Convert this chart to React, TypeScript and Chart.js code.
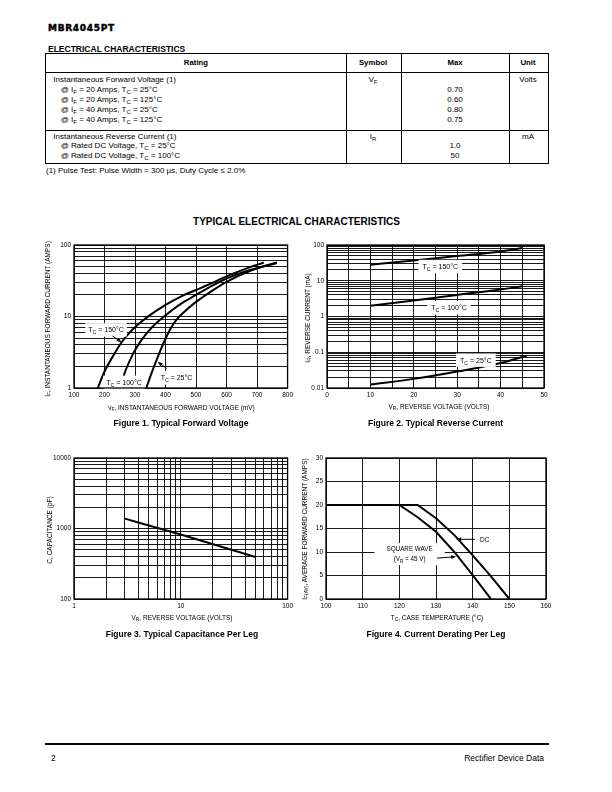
import React, { useEffect, useRef } from "react";
import { Chart, registerables } from "chart.js";
Chart.register(...registerables);

const FONT = '"Liberation Sans", Arial, Helvetica, sans-serif';

// ---------- Figure 1: typical forward voltage (mV) vs current (A) ----------
const f1XTicks = [100, 200, 300, 400, 500, 600, 700, 800];
const f1YLabels = [1, 10, 100];
const f1V150 = [178, 200, 230, 255, 280, 305, 340, 400, 450, 500, 550, 600, 660, 722];
const f1I150 = [1, 1.7, 2.9, 4.3, 5.8, 7.4, 9.8, 14.5, 19, 23.5, 29, 36.5, 46, 57];
const f1V100 = [250, 270, 295, 320, 345, 370, 395, 450, 500, 550, 600, 680, 765];
const f1I100 = [1, 1.8, 3.1, 4.6, 6.3, 8.1, 10, 15, 20, 26.5, 34, 45, 56];
const f1V25 = [337, 355, 375, 395, 415, 435, 460, 500, 550, 600, 680, 765];
const f1I25 = [1, 1.65, 2.75, 4.4, 6.6, 8.9, 11.5, 16, 22.5, 30.5, 44, 57];

// ---------- Figure 2: typical reverse current (mA) vs reverse voltage (V) ----------
const f2XTicks = [0, 5, 10, 15, 20, 25, 30, 35, 40, 45, 50];
const f2XLabels = [0, 10, 20, 30, 40, 50];
const f2YLabels = [0.01, 0.1, 1, 10, 100];
const f2V = [10, 20, 30, 40, 45];
const f2I150 = [28, 37, 49, 66, 82];
const f2I100 = [2.0, 2.8, 4.0, 5.7, 7.0];
const f2V25 = [10, 20, 30, 40, 46];
const f2I25 = [0.0125, 0.018, 0.029, 0.05, 0.08];

// ---------- Figure 3: capacitance (pF) vs reverse voltage (V) ----------
const f3XLabels = [1, 10, 100];
const f3YLabels = [100, 1000, 10000];
const f3V = [3, 10, 50];
const f3C = [1380, 820, 395];

// ---------- Figure 4: current derating (A) vs case temperature (°C) ----------
const f4XTicks = [100, 110, 120, 130, 140, 150, 160];
const f4YTicks = [0, 5, 10, 15, 20, 25, 30];
const f4TSq = [100, 120, 125, 130, 135, 140, 145];
const f4ISq = [20, 20, 17.4, 14.3, 10.0, 5.1, 0];
const f4TDc = [100, 125, 130, 135, 140, 145, 150];
const f4IDc = [20, 20, 17.2, 13.6, 9.3, 4.8, 0];

// ---------- helpers ----------
function logTicks(min: number, max: number) {
  const out: number[] = [];
  for (let e = Math.floor(Math.log10(min)); e <= Math.ceil(Math.log10(max)); e++) {
    for (let m = 1; m <= 9; m++) {
      const v = Number((m * Math.pow(10, e)).toPrecision(6));
      if (v >= min * (1 - 1e-9) && v <= max * (1 + 1e-9)) out.push(v);
    }
  }
  return out;
}

type Seg = { t: string; sub: boolean };
function parseRich(s: string): Seg[] {
  const out: Seg[] = [];
  const re = /\{([^}]*)\}/g;
  let last = 0;
  let m: RegExpExecArray | null;
  while ((m = re.exec(s))) {
    if (m.index > last) out.push({ t: s.slice(last, m.index), sub: false });
    out.push({ t: m[1], sub: true });
    last = re.lastIndex;
  }
  if (last < s.length) out.push({ t: s.slice(last), sub: false });
  return out;
}

function fontStr(size: number, bold = false) {
  return `${bold ? "bold " : ""}${size}px ${FONT}`;
}
function richWidth(ctx: CanvasRenderingContext2D, segs: Seg[], size: number) {
  let w = 0;
  for (const s of segs) {
    ctx.font = fontStr(s.sub ? size * 0.75 : size);
    w += ctx.measureText(s.t).width;
  }
  return w;
}
function drawRich(ctx: CanvasRenderingContext2D, segs: Seg[], cx: number, cy: number, size: number) {
  const w = richWidth(ctx, segs, size);
  let x = cx - w / 2;
  const base = cy + size * 0.36;
  ctx.textAlign = "left";
  ctx.textBaseline = "alphabetic";
  for (const s of segs) {
    const sz = s.sub ? size * 0.75 : size;
    ctx.font = fontStr(sz);
    ctx.fillText(s.t, x, s.sub ? base + size * 0.28 : base);
    x += ctx.measureText(s.t).width;
  }
}

type Ann = { x: number; y: number; lines: string[]; size?: number; padX?: number; padY?: number; lineH?: number };
type Arr = { x1: number; y1: number; x2: number; y2: number };
type Series = { x: number[]; y: number[] };
type FigCfg = {
  x: number; y: number; w: number; h: number;
  plot: [number, number, number, number];
  xType: "linear" | "logarithmic"; yType: "linear" | "logarithmic";
  xMin: number; xMax: number; yMin: number; yMax: number;
  xTicks: number[]; yTicks: number[]; xLabels: number[]; yLabels: number[];
  series: Series[]; tension: number;
  anns: Ann[]; arrows: Arr[];
};

function annPlugin(f: FigCfg) {
  return {
    id: "annots",
    afterDatasetsDraw(chart: any) {
      const ctx: CanvasRenderingContext2D = chart.ctx;
      const xs = chart.scales.x;
      const ys = chart.scales.y;
      const ca = chart.chartArea;
      ctx.save();
      for (const a of f.anns) {
        const size = a.size ?? 7;
        const lineH = a.lineH ?? size * 1.35;
        const segsL = a.lines.map(parseRich);
        const w = Math.max(...segsL.map((s) => richWidth(ctx, s, size)));
        const h = lineH * a.lines.length;
        const px = xs.getPixelForValue(a.x);
        const py = ys.getPixelForValue(a.y);
        const padX = a.padX ?? 2;
        const padY = a.padY ?? 1;
        ctx.fillStyle = "#fff";
        ctx.fillRect(px - w / 2 - padX, py - h / 2 - padY, w + 2 * padX, h + 2 * padY);
        ctx.fillStyle = "#000";
        segsL.forEach((s, i) => drawRich(ctx, s, px, py - h / 2 + lineH * (i + 0.5), size));
      }
      ctx.strokeStyle = "#000";
      ctx.fillStyle = "#000";
      for (const r of f.arrows) {
        const x1 = xs.getPixelForValue(r.x1), y1 = ys.getPixelForValue(r.y1);
        const x2 = xs.getPixelForValue(r.x2), y2 = ys.getPixelForValue(r.y2);
        const ang = Math.atan2(y2 - y1, x2 - x1);
        const L = 5, Wd = 2;
        ctx.lineWidth = 1;
        ctx.beginPath();
        ctx.moveTo(x1, y1);
        ctx.lineTo(x2 - Math.cos(ang) * L * 0.8, y2 - Math.sin(ang) * L * 0.8);
        ctx.stroke();
        ctx.beginPath();
        ctx.moveTo(x2, y2);
        ctx.lineTo(x2 - Math.cos(ang) * L - Math.sin(ang) * Wd, y2 - Math.sin(ang) * L + Math.cos(ang) * Wd);
        ctx.lineTo(x2 - Math.cos(ang) * L + Math.sin(ang) * Wd, y2 - Math.sin(ang) * L - Math.cos(ang) * Wd);
        ctx.closePath();
        ctx.fill();
      }
      ctx.lineWidth = 1.3;
      ctx.strokeRect(ca.left, ca.top, ca.right - ca.left, ca.bottom - ca.top);
      ctx.restore();
    },
  };
}

function buildConfig(f: FigCfg): any {
  const [L, T, R, B] = f.plot;
  const relL = L - f.x;
  const relT = T - f.y;
  const relR = f.x + f.w - R;
  const relB = f.y + f.h - B;
  const lbl = (labels: number[]) => (v: any) => {
    const n = Number(v);
    const m = labels.find((l) => Math.abs(l - n) <= Math.abs(l) * 1e-6 + 1e-12);
    return m === undefined ? "" : String(m);
  };
  const scale = (axis: "x" | "y", type: string, min: number, max: number, ticks: number[], labels: number[]) => ({
    type,
    min,
    max,
    afterBuildTicks: (s: any) => {
      s.ticks = ticks.map((v) => ({ value: v }));
    },
    afterFit: (s: any) => {
      if (axis === "x") s.height = relB;
      else s.width = relL;
    },
    grid: { color: "#000", lineWidth: 0.9, drawTicks: false },
    border: { display: false },
    ticks: {
      autoSkip: false,
      maxRotation: 0,
      minRotation: 0,
      padding: 3,
      color: "#000",
      font: { family: FONT, size: 6.5 },
      callback: lbl(labels),
    },
  });
  return {
    type: "line",
    data: {
      datasets: f.series.map((s) => ({
        data: s.x.map((xv, i) => ({ x: xv, y: s.y[i] })),
        borderColor: "#000",
        borderWidth: 2,
        pointRadius: 0,
        fill: false,
        tension: f.tension,
        cubicInterpolationMode: f.tension > 0 ? "monotone" : "default",
      })),
    },
    options: {
      responsive: false,
      maintainAspectRatio: false,
      animation: false,
      devicePixelRatio: 1,
      events: [],
      layout: { padding: { left: 0, top: relT, right: relR, bottom: 0 } },
      plugins: { legend: { display: false }, tooltip: { enabled: false }, title: { display: false } },
      scales: {
        x: scale("x", f.xType, f.xMin, f.xMax, f.xTicks, f.xLabels),
        y: scale("y", f.yType, f.yMin, f.yMax, f.yTicks, f.yLabels),
      },
    },
    plugins: [annPlugin(f)],
  };
}

function Fig({ cfg }: { cfg: FigCfg }) {
  const ref = useRef<HTMLCanvasElement>(null);
  useEffect(() => {
    const chart = new Chart(ref.current as HTMLCanvasElement, buildConfig(cfg));
    return () => chart.destroy();
  }, []);
  return (
    <canvas
      ref={ref}
      width={cfg.w}
      height={cfg.h}
      style={{ position: "absolute", left: cfg.x, top: cfg.y, width: cfg.w, height: cfg.h }}
    />
  );
}

const fig1: FigCfg = {
  x: 40, y: 236, w: 256, h: 180, plot: [74, 245, 288, 388],
  xType: "linear", yType: "logarithmic", xMin: 100, xMax: 800, yMin: 1, yMax: 100,
  xTicks: f1XTicks, yTicks: logTicks(1, 100), xLabels: f1XTicks, yLabels: f1YLabels,
  series: [
    { x: f1V150, y: f1I150 },
    { x: f1V100, y: f1I100 },
    { x: f1V25, y: f1I25 },
  ],
  tension: 0.4,
  anns: [
    { x: 205, y: 6.5, lines: ["T{C} = 150°C"], padX: 3, padY: 2 },
    { x: 264, y: 1.2, lines: ["T{C} = 100°C"], padX: 3, padY: 2 },
    { x: 436, y: 1.39, lines: ["T{C} = 25°C"], padX: 3, padY: 2 },
  ],
  arrows: [
    { x1: 226, y1: 5.35, x2: 256, y2: 4.36 },
    { x1: 404, y1: 1.88, x2: 374, y2: 2.32 },
  ],
};

const fig2: FigCfg = {
  x: 296, y: 236, w: 260, h: 180, plot: [327, 245, 544, 388],
  xType: "linear", yType: "logarithmic", xMin: 0, xMax: 50, yMin: 0.01, yMax: 100,
  xTicks: f2XTicks, yTicks: logTicks(0.01, 100), xLabels: f2XLabels, yLabels: f2YLabels,
  series: [
    { x: f2V, y: f2I150 },
    { x: f2V, y: f2I100 },
    { x: f2V25, y: f2I25 },
  ],
  tension: 0.3,
  anns: [
    { x: 26.1, y: 25, lines: ["T{C} = 150°C"], padX: 4, padY: 2 },
    { x: 28.1, y: 1.76, lines: ["T{C} = 100°C"], padX: 4, padY: 2 },
    { x: 34.3, y: 0.06, lines: ["T{C} = 25°C"], padX: 4, padY: 2 },
  ],
  arrows: [],
};

const fig3: FigCfg = {
  x: 40, y: 448, w: 256, h: 180, plot: [74, 458, 290, 599],
  xType: "logarithmic", yType: "logarithmic", xMin: 1, xMax: 100, yMin: 100, yMax: 10000,
  xTicks: logTicks(1, 100), yTicks: logTicks(100, 10000), xLabels: f3XLabels, yLabels: f3YLabels,
  series: [{ x: f3V, y: f3C }],
  tension: 0.3,
  anns: [],
  arrows: [],
};

const fig4: FigCfg = {
  x: 296, y: 448, w: 260, h: 180, plot: [326, 458, 546, 599],
  xType: "linear", yType: "linear", xMin: 100, xMax: 160, yMin: 0, yMax: 30,
  xTicks: f4XTicks, yTicks: f4YTicks, xLabels: f4XTicks, yLabels: f4YTicks,
  series: [
    { x: f4TSq, y: f4ISq },
    { x: f4TDc, y: f4IDc },
  ],
  tension: 0,
  anns: [
    { x: 143.3, y: 12.7, lines: ["DC"], size: 6.5, padX: 2, padY: 1 },
    { x: 122.8, y: 9.55, lines: ["SQUARE WAVE", "(V{R} = 45 V)"], size: 6.3, lineH: 10, padX: 12, padY: 1 },
  ],
  arrows: [
    { x1: 140.6, y1: 12.7, x2: 135.5, y2: 12.7 },
    { x1: 130.3, y1: 8.7, x2: 135.5, y2: 9.0 },
  ],
};

// ---------- HTML text ----------
function Rich({ s }: { s: string }) {
  return (
    <>
      {parseRich(s).map((p, i) =>
        p.sub ? (
          <sub key={i} style={{ fontSize: "0.75em", verticalAlign: "-0.3em", lineHeight: 0 }}>{p.t}</sub>
        ) : (
          <span key={i}>{p.t}</span>
        )
      )}
    </>
  );
}

function Tx(props: {
  x: number; y: number; s: string; size: number; bold?: boolean;
  align?: "left" | "center" | "right"; rot?: boolean; family?: string; ls?: number; stroke?: number;
}) {
  const { x, y, s, size, bold, align = "left", rot, family, ls, stroke } = props;
  const tx = align === "center" ? "-50%" : align === "right" ? "-100%" : "0";
  const style: React.CSSProperties = {
    position: "absolute",
    left: x,
    top: y,
    fontSize: size,
    fontWeight: bold ? 700 : 400,
    lineHeight: 1,
    whiteSpace: "nowrap",
    fontFamily: family || FONT,
    letterSpacing: ls,
    color: "#000",
    transform: rot ? "translate(-50%,-50%) rotate(-90deg)" : `translate(${tx},-50%)`,
  };
  if (stroke) (style as any).WebkitTextStroke = `${stroke}px #000`;
  return (
    <div style={style}>
      <Rich s={s} />
    </div>
  );
}

function Bar({ x, y, w, h }: { x: number; y: number; w: number; h: number }) {
  return <div style={{ position: "absolute", left: x, top: y, width: w, height: h, background: "#000" }} />;
}

export default function App() {
  const rowsA = [
    "@ I{F} = 20 Amps, T{C} = 25°C",
    "@ I{F} = 20 Amps, T{C} = 125°C",
    "@ I{F} = 40 Amps, T{C} = 25°C",
    "@ I{F} = 40 Amps, T{C} = 125°C",
  ];
  const valsA = ["0.70", "0.60", "0.80", "0.75"];
  const yA = [89.5, 99.5, 109.5, 119.5];
  return (
    <div style={{ position: "absolute", left: 0, top: 0, width: 612, height: 792, background: "#fff", overflow: "hidden" }}>
      <Tx x={48} y={28} s="MBR4045PT" size={9} bold family='"DejaVu Sans", sans-serif' ls={0.7} stroke={0.45} />
      <Tx x={48} y={48.5} s="ELECTRICAL CHARACTERISTICS" size={8.5} bold />

      {/* table */}
      <div style={{ position: "absolute", left: 45, top: 53, width: 504, height: 111, border: "1.4px solid #000", boxSizing: "border-box" }} />
      <Bar x={45} y={71.6} w={504} h={1.4} />
      <Bar x={45} y={130} w={504} h={1.4} />
      <Bar x={346.3} y={53} w={0.9} h={111} />
      <Bar x={401.3} y={53} w={0.9} h={111} />
      <Bar x={509.3} y={53} w={0.9} h={111} />
      <Tx x={196} y={63} s="Rating" size={7.8} bold align="center" />
      <Tx x={373} y={63} s="Symbol" size={7.8} bold align="center" />
      <Tx x={455} y={63} s="Max" size={7.8} bold align="center" />
      <Tx x={528} y={63} s="Unit" size={7.8} bold align="center" />

      <Tx x={53.3} y={79.5} s="Instantaneous Forward Voltage (1)" size={8} />
      {rowsA.map((r, i) => (
        <Tx key={r} x={60.7} y={yA[i]} s={r} size={8} />
      ))}
      <Tx x={373} y={79.5} s="V{F}" size={8} align="center" />
      {valsA.map((v, i) => (
        <Tx key={i} x={455} y={yA[i]} s={v} size={8} align="center" />
      ))}
      <Tx x={528} y={79.5} s="Volts" size={8} align="center" />

      <Tx x={53.3} y={136.5} s="Instantaneous Reverse Current (1)" size={8} />
      <Tx x={60.7} y={146} s="@ Rated DC Voltage, T{C} = 25°C" size={8} />
      <Tx x={60.7} y={155.5} s="@ Rated DC Voltage, T{C} = 100°C" size={8} />
      <Tx x={373} y={136.5} s="I{R}" size={8} align="center" />
      <Tx x={455} y={146} s="1.0" size={8} align="center" />
      <Tx x={455} y={155.5} s="50" size={8} align="center" />
      <Tx x={528} y={136.5} s="mA" size={8} align="center" />

      <Tx x={46} y={170.5} s="(1)  Pulse Test: Pulse Width = 300 µs, Duty Cycle ≤ 2.0%" size={8} />

      <Tx x={296.5} y={221.5} s="TYPICAL ELECTRICAL CHARACTERISTICS" size={10} bold align="center" />

      <Fig cfg={fig1} />
      <Fig cfg={fig2} />
      <Fig cfg={fig3} />
      <Fig cfg={fig4} />

      <Tx x={181.5} y={407.5} s="v{F}, INSTANTANEOUS FORWARD VOLTAGE (mV)" size={6.5} align="center" />
      <Tx x={47.5} y={319} s="I{F}, INSTANTANEOUS FORWARD CURRENT (AMPS)" size={6.5} rot />
      <Tx x={439} y={407} s="V{R}, REVERSE VOLTAGE (VOLTS)" size={6.5} align="center" />
      <Tx x={307.5} y={318} s="I{R}, REVERSE CURRENT (mA)" size={6.5} rot />
      <Tx x={182} y={617.5} s="V{R}, REVERSE VOLTAGE (VOLTS)" size={6.5} align="center" />
      <Tx x={49.5} y={530} s="C, CAPACITANCE (pF)" size={6.5} rot />
      <Tx x={437} y={618} s="T{C}, CASE TEMPERATURE (°C)" size={6.5} align="center" />
      <Tx x={304.5} y={529} s="I{F(AV)}, AVERAGE FORWARD CURRENT (AMPS)" size={6.5} rot />

      <Tx x={181} y={423} s="Figure 1. Typical Forward Voltage" size={8.5} bold align="center" />
      <Tx x={435.5} y={423} s="Figure 2. Typical Reverse Current" size={8.5} bold align="center" />
      <Tx x={182} y={634} s="Figure 3. Typical Capacitance Per Leg" size={8.5} bold align="center" />
      <Tx x={436} y={634} s="Figure 4. Current Derating Per Leg" size={8.5} bold align="center" />

      <Bar x={45} y={743.2} w={504} h={1.7} />
      <Tx x={51} y={758} s="2" size={8.5} />
      <Tx x={544} y={758} s="Rectifier Device Data" size={8.5} align="right" />
    </div>
  );
}
